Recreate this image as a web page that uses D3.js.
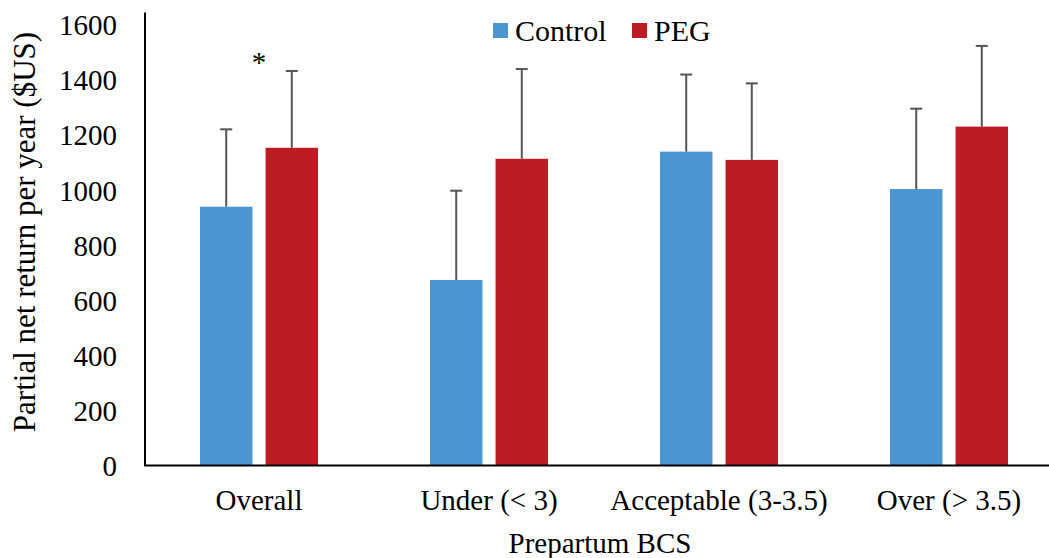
<!DOCTYPE html>
<html>
<head>
<meta charset="utf-8">
<script src="https://cdn.jsdelivr.net/npm/d3@7"></script>
<style>
  html, body { margin: 0; padding: 0; background: #fff; }
  svg text { font-family: "Liberation Serif", "Times New Roman", serif; fill: #000; }
</style>
</head>
<body>
<div id="chart"></div>
<script>
var categories = ["Overall", "Under (< 3)", "Acceptable (3-3.5)", "Over (> 3.5)"];
var series     = ["Control", "PEG"];
var control    = [940, 674, 1140, 1004];
var controlSD  = [281, 324, 280, 292];
var peg        = [1154, 1114, 1110, 1231];
var pegSD      = [279, 326, 278, 293];
var yTicks     = [0, 200, 400, 600, 800, 1000, 1200, 1400, 1600];
var starred    = ["Overall"];

var colors = { "Control": "#4a96d0", "PEG": "#bc1c23" };

var W = 1049, H = 558;

var svg = d3.select('#chart')
  .append('svg')
  .attr('width', W)
  .attr('height', H);

/* rows built from the arrays above */
var rows = categories.map(function (c, i) {
  return {
    cat: c,
    bars: [
      { key: "Control", value: control[i], sd: controlSD[i] },
      { key: "PEG",     value: peg[i],     sd: pegSD[i] }
    ]
  };
});

var x0 = d3.scaleBand()
  .domain(categories)
  .range([144, 1064])
  .padding(0);

var x1 = d3.scaleBand()
  .domain(series)
  .range([56, 174])
  .paddingInner(0.2)
  .paddingOuter(0);

var y = d3.scaleLinear()
  .domain([0, 1645])
  .range([465.5, 12.6]);

/* bars */
var groups = svg.selectAll('g.group')
  .data(rows)
  .enter()
  .append('g')
  .classed('group', true)
  .attr('transform', function (d) { return 'translate(' + x0(d.cat) + ',0)'; });

groups.selectAll('rect')
  .data(function (d) { return d.bars; })
  .enter()
  .append('rect')
  .attr('x', function (d) { return x1(d.key); })
  .attr('y', function (d) { return y(d.value); })
  .attr('width', x1.bandwidth())
  .attr('height', function (d) { return y(0) - y(d.value); })
  .attr('fill', function (d) { return colors[d.key]; });

/* error bars, upper side only */
var err = groups.selectAll('g.err')
  .data(function (d) { return d.bars; })
  .enter()
  .append('g')
  .classed('err', true)
  .attr('stroke', '#555')
  .attr('stroke-width', 2);

err.append('line')
  .attr('x1', function (d) { return x1(d.key) + x1.bandwidth() / 2; })
  .attr('x2', function (d) { return x1(d.key) + x1.bandwidth() / 2; })
  .attr('y1', function (d) { return y(d.value); })
  .attr('y2', function (d) { return y(d.value + d.sd); });

err.append('line')
  .attr('x1', function (d) { return x1(d.key) + x1.bandwidth() / 2 - 6; })
  .attr('x2', function (d) { return x1(d.key) + x1.bandwidth() / 2 + 6; })
  .attr('y1', function (d) { return y(d.value + d.sd); })
  .attr('y2', function (d) { return y(d.value + d.sd); });

/* significance mark */
svg.selectAll('text.star')
  .data(starred)
  .enter()
  .append('text')
  .classed('star', true)
  .attr('x', function (d) { return x0(d) + x0.bandwidth() / 2; })
  .attr('y', 72)
  .attr('text-anchor', 'middle')
  .style('font-size', '29px')
  .text('*');

/* y axis */
var yAxis = d3.axisLeft(y)
  .tickValues(yTicks)
  .tickSize(0)
  .tickPadding(28)
  .tickFormat(d3.format('d'));

var gy = svg.append('g')
  .attr('transform', 'translate(145,0)')
  .call(yAxis);
gy.select('.domain').remove();
gy.selectAll('text')
  .style('font-size', '29px')
  .style('font-family', '"Liberation Serif", "Times New Roman", serif')
  .attr('dy', '0.34em');

svg.append('line')
  .attr('x1', 145).attr('x2', 145)
  .attr('y1', y(1645)).attr('y2', y(0))
  .attr('stroke', '#000')
  .attr('stroke-width', 2);

/* x axis */
var xAxis = d3.axisBottom(x0)
  .tickSize(0)
  .tickPadding(24);

var gx = svg.append('g')
  .attr('transform', 'translate(0,' + y(0) + ')')
  .call(xAxis);
gx.select('.domain').remove();
gx.selectAll('text')
  .style('font-size', '29px')
  .style('font-family', '"Liberation Serif", "Times New Roman", serif');

svg.append('line')
  .attr('x1', 144).attr('x2', W)
  .attr('y1', y(0)).attr('y2', y(0))
  .attr('stroke', '#000')
  .attr('stroke-width', 2);

/* titles */
svg.append('text')
  .attr('x', 600)
  .attr('y', 553)
  .attr('text-anchor', 'middle')
  .style('font-size', '29px')
  .text('Prepartum BCS');

svg.append('text')
  .attr('transform', 'translate(35,232) rotate(-90)')
  .attr('text-anchor', 'middle')
  .style('font-size', '31px')
  .text('Partial net return per year ($US)');

/* legend */
var legendX = [493, 632];
var legend = svg.selectAll('g.legend')
  .data(series)
  .enter()
  .append('g')
  .classed('legend', true)
  .attr('transform', function (d, i) { return 'translate(' + legendX[i] + ',23)'; });

legend.append('rect')
  .attr('width', 15)
  .attr('height', 15)
  .attr('fill', function (d) { return colors[d]; });

legend.append('text')
  .attr('x', 22)
  .attr('y', 18)
  .style('font-size', '30px')
  .text(function (d) { return d; });
</script>
</body>
</html>
